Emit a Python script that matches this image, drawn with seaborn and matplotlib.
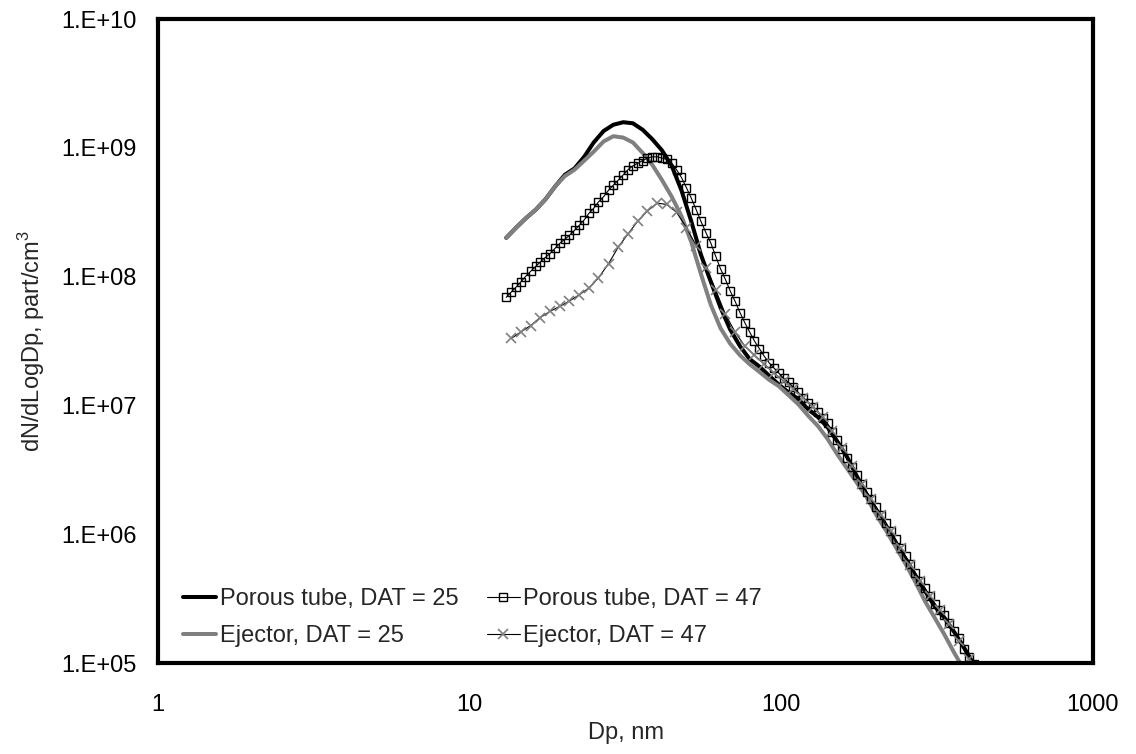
import math
import matplotlib
matplotlib.use("Agg")
import matplotlib.pyplot as plt
import seaborn as sns
from matplotlib.ticker import FixedLocator, FuncFormatter, NullFormatter, LogLocator

# ---------------- data ----------------
# SMPS channel diameters (nm), 64 channels/decade
dp_full = [13.1, 13.6, 14.1, 14.6, 15.1, 15.7, 16.3, 16.8, 17.5, 18.1, 18.8, 19.5,
           20.2, 20.9, 21.7, 22.5, 23.3, 24.1, 25.0, 25.9, 26.9, 27.9, 28.9, 30.0,
           31.1, 32.2, 33.4, 34.6, 35.9, 37.2, 38.5, 40.0, 41.4, 42.9, 44.5, 46.1,
           47.8, 49.6, 51.4, 53.3, 55.2, 57.3, 59.4, 61.5, 63.8, 66.1, 68.5, 71.0,
           73.7, 76.4, 79.1, 82.0, 85.1, 88.2, 91.4, 94.7, 98.2, 101.8, 105.5, 109.4,
           113.4, 117.6, 121.9, 126.3, 131.0, 135.8, 140.7, 145.9, 151.2, 156.8, 162.5,
           168.5, 174.7, 181.1, 187.7, 194.6, 201.7, 209.1, 216.7, 224.7, 232.9, 241.4,
           250.3, 259.5, 269.0, 278.8, 289.0, 299.6, 310.6, 322.0, 333.8, 346.0, 358.7,
           371.8, 385.4, 399.5, 414.2]

# Porous tube, DAT = 25 (thick black line)
dp_25 = [13.1, 14.1, 15.1, 16.3, 17.5, 18.8, 20.2, 21.7, 23.3, 25.0, 26.9, 28.9,
         31.1, 33.4, 35.9, 38.5, 41.4, 44.5, 47.8, 51.4, 55.2, 59.4, 63.8, 68.5,
         73.7, 79.1, 85.1, 91.4, 98.2, 105.5, 113.4, 121.9, 131.0, 140.7, 151.2,
         162.5, 174.7, 187.7, 201.7, 216.7, 232.9, 250.3, 269.0, 289.0, 310.6,
         333.8, 358.7, 385.4, 414.2]
porous_25 = [2.0e8, 2.4e8, 2.82e8, 3.31e8, 3.98e8, 5.01e8, 6.17e8, 6.92e8, 8.51e8,
             1.10e9, 1.35e9, 1.51e9, 1.58e9, 1.55e9, 1.38e9, 1.17e9, 9.55e8, 7.24e8,
             4.68e8, 2.69e8, 1.48e8, 9.12e7, 5.75e7, 3.89e7, 2.88e7, 2.29e7, 2.0e7,
             1.70e7, 1.45e7, 1.26e7, 1.12e7, 9.33e6, 8.13e6, 6.76e6, 5.25e6, 3.98e6,
             2.82e6, 2.04e6, 1.48e6, 1.12e6, 8.51e5, 6.46e5, 4.79e5, 3.63e5, 2.75e5,
             2.24e5, 1.74e5, 1.32e5, 9.8e4]

# Ejector, DAT = 25 (thick grey line)
ejector_25 = [2.0e8, 2.4e8, 2.82e8, 3.31e8, 3.98e8, 5.01e8, 6.03e8, 6.76e8, 7.94e8,
              9.33e8, 1.12e9, 1.23e9, 1.20e9, 1.10e9, 9.12e8, 7.41e8, 5.62e8, 4.17e8,
              2.95e8, 1.86e8, 1.05e8, 6.03e7, 3.98e7, 3.02e7, 2.45e7, 2.09e7, 1.82e7,
              1.58e7, 1.41e7, 1.20e7, 1.02e7, 8.32e6, 6.92e6, 5.50e6, 4.17e6, 3.24e6,
              2.51e6, 1.95e6, 1.41e6, 1.07e6, 7.94e5, 5.89e5, 4.27e5, 3.02e5, 2.24e5,
              1.66e5, 1.20e5, 8.9e4, 7.1e4]

# Porous tube, DAT = 47 (squares)
porous_47 = [6.9e7, 7.6e7, 8.3e7, 9.1e7, 1.0e8, 1.1e8, 1.2e8, 1.29e8, 1.41e8, 1.51e8,
             1.66e8, 1.82e8, 1.95e8, 2.09e8, 2.29e8, 2.51e8, 2.75e8, 3.09e8, 3.39e8,
             3.80e8, 4.17e8, 4.68e8, 5.13e8, 5.62e8, 6.17e8, 6.76e8, 7.24e8, 7.59e8,
             7.94e8, 8.32e8, 8.51e8, 8.51e8, 8.32e8, 8.13e8, 7.59e8, 6.76e8, 5.89e8,
             4.90e8, 4.07e8, 3.31e8, 2.69e8, 2.19e8, 1.82e8, 1.45e8, 1.15e8, 9.55e7,
             7.76e7, 6.46e7, 5.25e7, 4.37e7, 3.72e7, 3.16e7, 2.75e7, 2.40e7, 2.14e7,
             1.95e7, 1.78e7, 1.62e7, 1.51e7, 1.38e7, 1.26e7, 1.15e7, 1.05e7, 9.77e6,
             8.91e6, 7.94e6, 7.24e6, 6.17e6, 5.37e6, 4.57e6, 3.89e6, 3.31e6, 2.88e6,
             2.45e6, 2.14e6, 1.86e6, 1.62e6, 1.41e6, 1.23e6, 1.05e6, 9.12e5, 7.76e5,
             6.76e5, 5.89e5, 5.01e5, 4.37e5, 3.80e5, 3.31e5, 2.88e5, 2.57e5, 2.34e5,
             2.04e5, 1.78e5, 1.55e5, 1.29e5, 1.12e5, 9.8e4]

# Ejector, DAT = 47 (crosses)
dp_e47 = [13.6, 14.6, 15.7, 16.8, 18.1, 19.5, 20.9, 22.5, 24.1, 25.9, 27.9, 30.0,
          32.2, 34.6, 37.2, 40.0, 42.9, 46.1, 49.6, 53.3, 57.3, 61.5, 66.1, 71.0,
          76.4, 82.0, 88.2, 94.7, 101.8, 109.4, 117.6, 126.3, 135.8, 145.9, 156.8,
          168.5, 181.1, 194.6, 209.1, 224.7, 241.4, 259.5, 278.8, 299.6, 322.0,
          346.0, 371.8, 399.5]
ejector_47 = [3.31e7, 3.72e7, 4.17e7, 4.79e7, 5.37e7, 5.89e7, 6.46e7, 7.24e7, 8.13e7,
              9.77e7, 1.26e8, 1.70e8, 2.14e8, 2.69e8, 3.24e8, 3.72e8, 3.63e8, 3.16e8,
              2.40e8, 1.74e8, 1.17e8, 7.94e7, 5.13e7, 3.72e7, 2.88e7, 2.45e7, 2.09e7,
              1.78e7, 1.55e7, 1.35e7, 1.15e7, 9.77e6, 8.13e6, 6.31e6, 4.68e6, 3.39e6,
              2.45e6, 1.86e6, 1.41e6, 1.05e6, 7.76e5, 5.75e5, 4.37e5, 3.31e5, 2.57e5,
              2.0e5, 1.48e5, 1.07e5]

labels = ["Porous tube, DAT = 25", "Ejector, DAT = 25",
          "Porous tube, DAT = 47", "Ejector, DAT = 47"]
x_ticks = [1, 10, 100, 1000]
y_ticks = [1e5, 1e6, 1e7, 1e8, 1e9, 1e10]

# ---------------- style ----------------
sns.set_style("white")
plt.rcParams['font.family'] = ['Liberation Sans', 'DejaVu Sans']
plt.rcParams['mathtext.fontset'] = 'custom'
plt.rcParams['mathtext.rm'] = 'Liberation Sans'
FS = 17

fig = plt.figure(figsize=(11.36, 7.54), dpi=100)
ax = fig.add_axes([158 / 1136, 91 / 754, 935 / 1136, 644 / 754])

GREY = '#808080'
sns.lineplot(x=dp_25, y=porous_25, ax=ax, color='black', linewidth=2.9,
             sort=False, estimator=None, label=labels[0])
sns.lineplot(x=dp_25, y=ejector_25, ax=ax, color=GREY, linewidth=2.9,
             sort=False, estimator=None, label=labels[1])
sns.lineplot(x=dp_full, y=porous_47, ax=ax, color='black', linewidth=0.8,
             marker='s', markersize=5.5, markerfacecolor='none',
             markeredgecolor='black', markeredgewidth=1.0,
             sort=False, estimator=None, label=labels[2])
sns.lineplot(x=dp_e47, y=ejector_47, ax=ax, color='black', linewidth=0.8,
             marker='x', markersize=7.5, markeredgecolor=GREY, markeredgewidth=1.2,
             sort=False, estimator=None, label=labels[3])

ax.set_xscale('log')
ax.set_yscale('log')
ax.set_xlim(1, 1000)
ax.set_ylim(1e5, 1e10)

ax.xaxis.set_major_locator(FixedLocator(x_ticks))
ax.xaxis.set_major_formatter(FuncFormatter(lambda v, p: f"{v:g}"))
ax.xaxis.set_minor_locator(LogLocator(base=10, subs=range(2, 10), numticks=50))
ax.xaxis.set_minor_formatter(NullFormatter())
ax.yaxis.set_major_locator(FixedLocator(y_ticks))
ax.yaxis.set_major_formatter(FuncFormatter(lambda v, p: "1.E+%02d" % round(math.log10(v))))
ax.yaxis.set_minor_locator(LogLocator(base=10, subs=range(2, 10), numticks=50))
ax.yaxis.set_minor_formatter(NullFormatter())

for s in ax.spines.values():
    s.set_visible(True)
    s.set_color('black')
    s.set_linewidth(3.0)

ax.tick_params(axis='both', which='major', direction='out', length=5.5, width=0.8,
               color='#404040', labelsize=FS, labelcolor='black')
ax.tick_params(axis='both', which='minor', direction='out', length=3.5, width=0.8,
               color='#404040')
ax.tick_params(axis='x', which='major', pad=17)
ax.tick_params(axis='y', which='major', pad=10)

ax.set_xlabel("Dp, nm", fontsize=FS, labelpad=4)
ax.set_ylabel(r"dN/dLogDp, part/cm$^\mathregular{3}$", fontsize=FS, labelpad=10)
ax.grid(False)

handles, labs = ax.get_legend_handles_labels()
ax.legend(handles, labs, ncol=2, loc='lower left', bbox_to_anchor=(0.022, 0.017),
          frameon=False, fontsize=FS, handlelength=1.4, handletextpad=0.15,
          columnspacing=1.2, labelspacing=0.65, borderpad=0.2, borderaxespad=0,
          numpoints=1)

fig.savefig("out.png", dpi=100, facecolor='white')
